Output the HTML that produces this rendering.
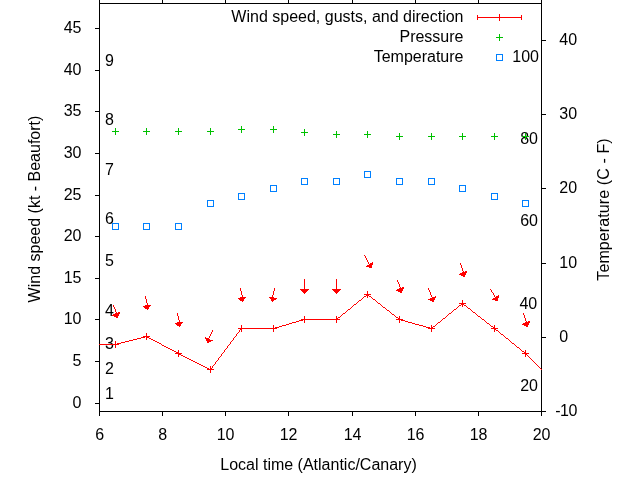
<!DOCTYPE html><html><head><meta charset="utf-8"><title>Wind plot</title><style>
html,body{margin:0;padding:0;background:#fff;}body{width:640px;height:480px;overflow:hidden;}
svg{display:block;}text{font-family:"Liberation Sans",Arial,Helvetica,sans-serif;font-size:16px;fill:#000;}
.s text{font-size:16px;}
.c{shape-rendering:crispEdges;fill:none;stroke-width:1;}
</style></head><body>
<svg width="640" height="480" viewBox="0 0 640 480">
<rect width="640" height="480" fill="#fff"/>
<g class="c" stroke="#000">
<path d="M99 3.5H542"/>
<path d="M99 411.5H542"/>
<path d="M99.5 3V412"/>
<path d="M541.5 3V412"/>
<path d="M95 403.5H99"/>
<path d="M95 361.5H99"/>
<path d="M95 319.5H99"/>
<path d="M95 278.5H99"/>
<path d="M95 236.5H99"/>
<path d="M95 195.5H99"/>
<path d="M95 153.5H99"/>
<path d="M95 111.5H99"/>
<path d="M95 70.5H99"/>
<path d="M95 28.5H99"/>
<path d="M541 411.5H546"/>
<path d="M541 337.5H546"/>
<path d="M541 263.5H546"/>
<path d="M541 188.5H546"/>
<path d="M541 114.5H546"/>
<path d="M541 40.5H546"/>
<path d="M99.5 411V416"/>
<path d="M99.5 -1V3"/>
<path d="M162.5 411V416"/>
<path d="M162.5 -1V3"/>
<path d="M225.5 411V416"/>
<path d="M225.5 -1V3"/>
<path d="M288.5 411V416"/>
<path d="M288.5 -1V3"/>
<path d="M352.5 411V416"/>
<path d="M352.5 -1V3"/>
<path d="M415.5 411V416"/>
<path d="M415.5 -1V3"/>
<path d="M478.5 411V416"/>
<path d="M478.5 -1V3"/>
<path d="M541.5 411V416"/>
<path d="M541.5 -1V3"/>
</g>
<g class="s">
<text x="81.5" y="407.7" text-anchor="end">0</text>
<text x="81.5" y="365.7" text-anchor="end">5</text>
<text x="81.5" y="323.7" text-anchor="end">10</text>
<text x="81.5" y="282.7" text-anchor="end">15</text>
<text x="81.5" y="240.7" text-anchor="end">20</text>
<text x="81.5" y="199.7" text-anchor="end">25</text>
<text x="81.5" y="157.7" text-anchor="end">30</text>
<text x="81.5" y="115.7" text-anchor="end">35</text>
<text x="81.5" y="74.7" text-anchor="end">40</text>
<text x="81.5" y="32.7" text-anchor="end">45</text>
<text x="555.2" y="415.7" style="letter-spacing:-0.5px">-10</text>
<text x="554.8" y="341.7"> 0</text>
<text x="554.8" y="267.7"> 10</text>
<text x="554.8" y="192.7"> 20</text>
<text x="554.8" y="118.7"> 30</text>
<text x="554.8" y="44.7"> 40</text>
<text x="99.6" y="439.8" text-anchor="middle">6</text>
<text x="162.6" y="439.8" text-anchor="middle">8</text>
<text x="225.6" y="439.8" text-anchor="middle">10</text>
<text x="288.6" y="439.8" text-anchor="middle">12</text>
<text x="352.6" y="439.8" text-anchor="middle">14</text>
<text x="415.6" y="439.8" text-anchor="middle">16</text>
<text x="478.6" y="439.8" text-anchor="middle">18</text>
<text x="541.6" y="439.8" text-anchor="middle">20</text>
</g>
<text x="318.5" y="470" text-anchor="middle">Local time (Atlantic/Canary)</text>
<text transform="translate(39.5,209) rotate(-90)" text-anchor="middle">Wind speed (kt - Beaufort)</text>
<text transform="translate(608.5,209.5) rotate(-90)" text-anchor="middle" style="letter-spacing:0.1px">Temperature (C - F)</text>
<g class="s">
<text x="105" y="399">1</text>
<text x="105" y="374">2</text>
<text x="105" y="349">3</text>
<text x="105" y="316">4</text>
<text x="105" y="266">5</text>
<text x="105" y="224">6</text>
<text x="105" y="175">7</text>
<text x="105" y="125">8</text>
<text x="105" y="66">9</text>
<text x="539" y="62" text-anchor="end">100</text>
<text x="538" y="144" text-anchor="end">80</text>
<text x="538" y="226" text-anchor="end">60</text>
<text x="537.2" y="309" text-anchor="end">40</text>
<text x="538" y="391" text-anchor="end">20</text>
</g>
<text x="463.5" y="22" text-anchor="end">Wind speed, gusts, and direction</text>
<text x="463.5" y="42" text-anchor="end">Pressure</text>
<text x="463.5" y="62" text-anchor="end">Temperature</text>
<g class="c" stroke="#ff0000"><path d="M477 17.5H522M477.5 15V20M521.5 15V20M499.5 14V21"/></g>
<g class="c" stroke="#00c000"><path d="M496 37.5H503M499.5 34V41"/></g>
<g class="c" stroke="#0080ff"><rect x="496.5" y="54.5" width="6" height="6"/></g>
<path shape-rendering="crispEdges" fill="#ff0000" d="M99 344h18v1h-18zM117 343h4v1h-4zM121 342h4v1h-4zM125 341h4v1h-4zM129 340h4v1h-4zM133 339h4v1h-4zM137 338h4v1h-4zM141 337h4v1h-4zM145 336h2v1h-2zM147 337h2v1h-2zM149 338h2v1h-2zM151 339h2v1h-2zM153 340h2v1h-2zM155 341h2v1h-2zM157 342h2v1h-2zM159 343h2v1h-2zM161 344h1v1h-1zM162 345h2v1h-2zM164 346h2v1h-2zM166 347h2v1h-2zM168 348h2v1h-2zM170 349h2v1h-2zM172 350h2v1h-2zM174 351h2v1h-2zM176 352h2v1h-2zM178 353h1v1h-1zM179 354h2v1h-2zM181 355h2v1h-2zM183 356h2v1h-2zM185 357h2v1h-2zM187 358h2v1h-2zM189 359h2v1h-2zM191 360h2v1h-2zM193 361h2v1h-2zM195 362h2v1h-2zM197 363h2v1h-2zM199 364h2v1h-2zM201 365h2v1h-2zM203 366h2v1h-2zM205 367h2v1h-2zM207 368h2v1h-2zM209 369h2v1h-2zM211 368h1v1h-1zM212 366h1v2h-1zM213 365h1v1h-1zM214 364h1v1h-1zM215 362h1v2h-1zM216 361h1v1h-1zM217 360h1v1h-1zM218 358h1v2h-1zM219 357h1v1h-1zM220 356h1v1h-1zM221 354h1v2h-1zM222 353h1v1h-1zM223 352h1v1h-1zM224 350h1v2h-1zM225 349h1v1h-1zM226 348h1v1h-1zM227 346h1v2h-1zM228 345h1v1h-1zM229 344h1v1h-1zM230 342h1v2h-1zM231 341h1v1h-1zM232 340h1v1h-1zM233 338h1v2h-1zM234 337h1v1h-1zM235 336h1v1h-1zM236 334h1v2h-1zM237 333h1v1h-1zM238 332h1v1h-1zM239 330h1v2h-1zM240 329h1v1h-1zM241 328h34v1h-34zM275 327h4v1h-4zM279 326h3v1h-3zM282 325h4v1h-4zM286 324h3v1h-3zM289 323h3v1h-3zM292 322h4v1h-4zM296 321h3v1h-3zM299 320h4v1h-4zM303 319h34v1h-34zM337 318h1v1h-1zM338 317h2v1h-2zM340 316h1v1h-1zM341 315h1v1h-1zM342 314h1v1h-1zM343 313h2v1h-2zM345 312h1v1h-1zM346 311h1v1h-1zM347 310h1v1h-1zM348 309h2v1h-2zM350 308h1v1h-1zM351 307h1v1h-1zM352 306h1v1h-1zM353 305h1v1h-1zM354 304h2v1h-2zM356 303h1v1h-1zM357 302h1v1h-1zM358 301h1v1h-1zM359 300h2v1h-2zM361 299h1v1h-1zM362 298h1v1h-1zM363 297h1v1h-1zM364 296h2v1h-2zM366 295h1v1h-1zM367 294h1v1h-1zM368 295h1v1h-1zM369 296h2v1h-2zM371 297h1v1h-1zM372 298h1v1h-1zM373 299h2v1h-2zM375 300h1v1h-1zM376 301h1v1h-1zM377 302h1v1h-1zM378 303h2v1h-2zM380 304h1v1h-1zM381 305h1v1h-1zM382 306h1v1h-1zM383 307h2v1h-2zM385 308h1v1h-1zM386 309h1v1h-1zM387 310h2v1h-2zM389 311h1v1h-1zM390 312h1v1h-1zM391 313h1v1h-1zM392 314h2v1h-2zM394 315h1v1h-1zM395 316h1v1h-1zM396 317h2v1h-2zM398 318h1v1h-1zM399 319h2v1h-2zM401 320h4v1h-4zM405 321h3v1h-3zM408 322h4v1h-4zM412 323h3v1h-3zM415 324h4v1h-4zM419 325h4v1h-4zM423 326h3v1h-3zM426 327h4v1h-4zM430 328h2v1h-2zM432 327h1v1h-1zM433 326h2v1h-2zM435 325h1v1h-1zM436 324h1v1h-1zM437 323h1v1h-1zM438 322h2v1h-2zM440 321h1v1h-1zM441 320h1v1h-1zM442 319h1v1h-1zM443 318h2v1h-2zM445 317h1v1h-1zM446 316h1v1h-1zM447 315h1v1h-1zM448 314h1v1h-1zM449 313h2v1h-2zM451 312h1v1h-1zM452 311h1v1h-1zM453 310h1v1h-1zM454 309h2v1h-2zM456 308h1v1h-1zM457 307h1v1h-1zM458 306h1v1h-1zM459 305h2v1h-2zM461 304h1v1h-1zM462 303h1v1h-1zM463 304h1v1h-1zM464 305h2v1h-2zM466 306h1v1h-1zM467 307h1v1h-1zM468 308h2v1h-2zM470 309h1v1h-1zM471 310h1v1h-1zM472 311h1v1h-1zM473 312h2v1h-2zM475 313h1v1h-1zM476 314h1v1h-1zM477 315h1v1h-1zM478 316h2v1h-2zM480 317h1v1h-1zM481 318h1v1h-1zM482 319h2v1h-2zM484 320h1v1h-1zM485 321h1v1h-1zM486 322h1v1h-1zM487 323h2v1h-2zM489 324h1v1h-1zM490 325h1v1h-1zM491 326h2v1h-2zM493 327h1v1h-1zM494 328h1v1h-1zM495 329h1v1h-1zM496 330h2v1h-2zM498 331h1v1h-1zM499 332h1v1h-1zM500 333h1v1h-1zM501 334h2v1h-2zM503 335h1v1h-1zM504 336h1v1h-1zM505 337h1v1h-1zM506 338h2v1h-2zM508 339h1v1h-1zM509 340h1v1h-1zM510 341h1v1h-1zM511 342h1v1h-1zM512 343h2v1h-2zM514 344h1v1h-1zM515 345h1v1h-1zM516 346h1v1h-1zM517 347h2v1h-2zM519 348h1v1h-1zM520 349h1v1h-1zM521 350h1v1h-1zM522 351h2v1h-2zM524 352h1v1h-1zM525 353h1v1h-1zM526 354h1v1h-1zM527 355h1v1h-1zM528 356h1v1h-1zM529 357h1v1h-1zM530 358h1v1h-1zM531 359h1v1h-1zM532 360h1v1h-1zM533 361h1v1h-1zM534 362h1v1h-1zM535 363h1v1h-1zM536 364h1v1h-1zM537 365h1v1h-1zM538 366h1v1h-1zM539 367h1v1h-1zM540 368h1v1h-1zM541 369h1v1h-1z"/>
<g class="c" stroke="#ff0000">
<path d="M112 344.5H119M115.5 341V348M143 336.5H150M146.5 333V340M175 353.5H182M178.5 350V357M207 369.5H214M210.5 366V373M238 328.5H245M241.5 325V332M270 328.5H277M273.5 325V332M301 319.5H308M304.5 316V323M333 319.5H340M336.5 316V323M364 294.5H371M367.5 291V298M396 319.5H403M399.5 316V323M428 328.5H435M431.5 325V332M459 303.5H466M462.5 300V307M491 328.5H498M494.5 325V332M522 353.5H529M525.5 350V357"/></g>
<g class="c" stroke="#00c000"><path d="M112 131.5H119M115.5 128V135M143 131.5H150M146.5 128V135M175 131.5H182M178.5 128V135M207 131.5H214M210.5 128V135M238 129.5H245M241.5 126V133M270 129.5H277M273.5 126V133M301 132.5H308M304.5 129V136M333 134.5H340M336.5 131V138M364 134.5H371M367.5 131V138M396 136.5H403M399.5 133V140M428 136.5H435M431.5 133V140M459 136.5H466M462.5 133V140M491 136.5H498M494.5 133V140M522 136.5H529M525.5 133V140"/></g>
<g class="c" stroke="#0080ff">
<rect x="112.5" y="223.5" width="6" height="6"/>
<rect x="143.5" y="223.5" width="6" height="6"/>
<rect x="175.5" y="223.5" width="6" height="6"/>
<rect x="207.5" y="200.5" width="6" height="6"/>
<rect x="238.5" y="193.5" width="6" height="6"/>
<rect x="270.5" y="185.5" width="6" height="6"/>
<rect x="301.5" y="178.5" width="6" height="6"/>
<rect x="333.5" y="178.5" width="6" height="6"/>
<rect x="364.5" y="171.5" width="6" height="6"/>
<rect x="396.5" y="178.5" width="6" height="6"/>
<rect x="428.5" y="178.5" width="6" height="6"/>
<rect x="459.5" y="185.5" width="6" height="6"/>
<rect x="491.5" y="193.5" width="6" height="6"/>
<rect x="522.5" y="200.5" width="6" height="6"/>
</g>
<path shape-rendering="crispEdges" fill="#ff0000" d="M112 315h7v1h-7zM113 305h1v2h-1zM113 314h6v1h-6zM114 307h1v2h-1zM114 316h4v1h-4zM115 309h1v3h-1zM115 313h5v1h-5zM116 312h1v1h-1zM116 317h2v1h-2zM118 312h2v1h-2zM143 306h7v1h-7zM144 307h5v1h-5zM145 296h1v3h-1zM145 308h4v1h-4zM145 305h6v1h-6zM146 299h1v4h-1zM147 303h1v2h-1zM147 309h1v1h-1zM175 323h7v1h-7zM176 324h5v1h-5zM177 313h1v3h-1zM177 325h4v1h-4zM177 322h6v1h-6zM178 316h1v4h-1zM179 320h1v2h-1zM179 326h1v1h-1zM205 337h1v1h-1zM205 338h4v1h-4zM206 339h4v1h-4zM206 340h7v1h-7zM207 342h2v1h-2zM207 341h4v1h-4zM209 336h1v2h-1zM210 334h1v2h-1zM211 332h1v2h-1zM212 330h1v2h-1zM238 298h7v1h-7zM239 299h5v1h-5zM240 288h1v3h-1zM240 300h4v1h-4zM240 297h6v1h-6zM241 291h1v4h-1zM242 295h1v2h-1zM242 301h1v1h-1zM269 297h5v1h-5zM270 298h7v1h-7zM271 300h3v1h-3zM271 299h5v1h-5zM272 295h1v2h-1zM272 301h1v1h-1zM273 291h1v4h-1zM274 288h1v3h-1zM300 289h9v1h-9zM301 290h7v1h-7zM302 291h5v1h-5zM303 292h3v1h-3zM304 279h1v10h-1zM304 293h1v1h-1zM332 289h9v1h-9zM333 290h7v1h-7zM334 291h5v1h-5zM335 292h3v1h-3zM336 279h1v10h-1zM336 293h1v1h-1zM364 255h1v1h-1zM365 256h1v2h-1zM366 258h1v2h-1zM366 266h6v1h-6zM367 260h1v2h-1zM367 265h5v1h-5zM368 262h1v2h-1zM369 267h3v1h-3zM369 264h4v1h-4zM370 263h3v1h-3zM372 262h1v1h-1zM396 290h7v1h-7zM397 280h1v2h-1zM397 289h6v1h-6zM398 282h1v2h-1zM398 291h4v1h-4zM399 284h1v3h-1zM399 288h5v1h-5zM400 287h1v1h-1zM400 292h2v1h-2zM402 287h2v1h-2zM428 288h1v2h-1zM428 299h7v1h-7zM429 290h1v2h-1zM430 292h1v3h-1zM430 300h4v1h-4zM430 298h5v1h-5zM431 295h1v2h-1zM432 301h2v1h-2zM432 297h4v1h-4zM435 296h1v1h-1zM459 274h7v1h-7zM460 263h1v2h-1zM460 273h6v1h-6zM461 265h1v3h-1zM461 275h4v1h-4zM462 268h1v3h-1zM462 272h5v1h-5zM463 271h1v1h-1zM463 276h2v1h-2zM465 271h2v1h-2zM490 289h1v1h-1zM491 290h1v2h-1zM492 292h1v1h-1zM492 299h6v1h-6zM493 293h1v2h-1zM493 298h5v1h-5zM494 295h1v2h-1zM495 300h3v1h-3zM495 297h4v1h-4zM496 296h3v1h-3zM498 295h1v1h-1zM522 324h7v1h-7zM523 313h1v2h-1zM523 323h6v1h-6zM524 315h1v3h-1zM524 325h4v1h-4zM525 318h1v3h-1zM525 322h5v1h-5zM526 321h1v1h-1zM526 326h2v1h-2zM528 321h2v1h-2z"/>
</svg></body></html>
